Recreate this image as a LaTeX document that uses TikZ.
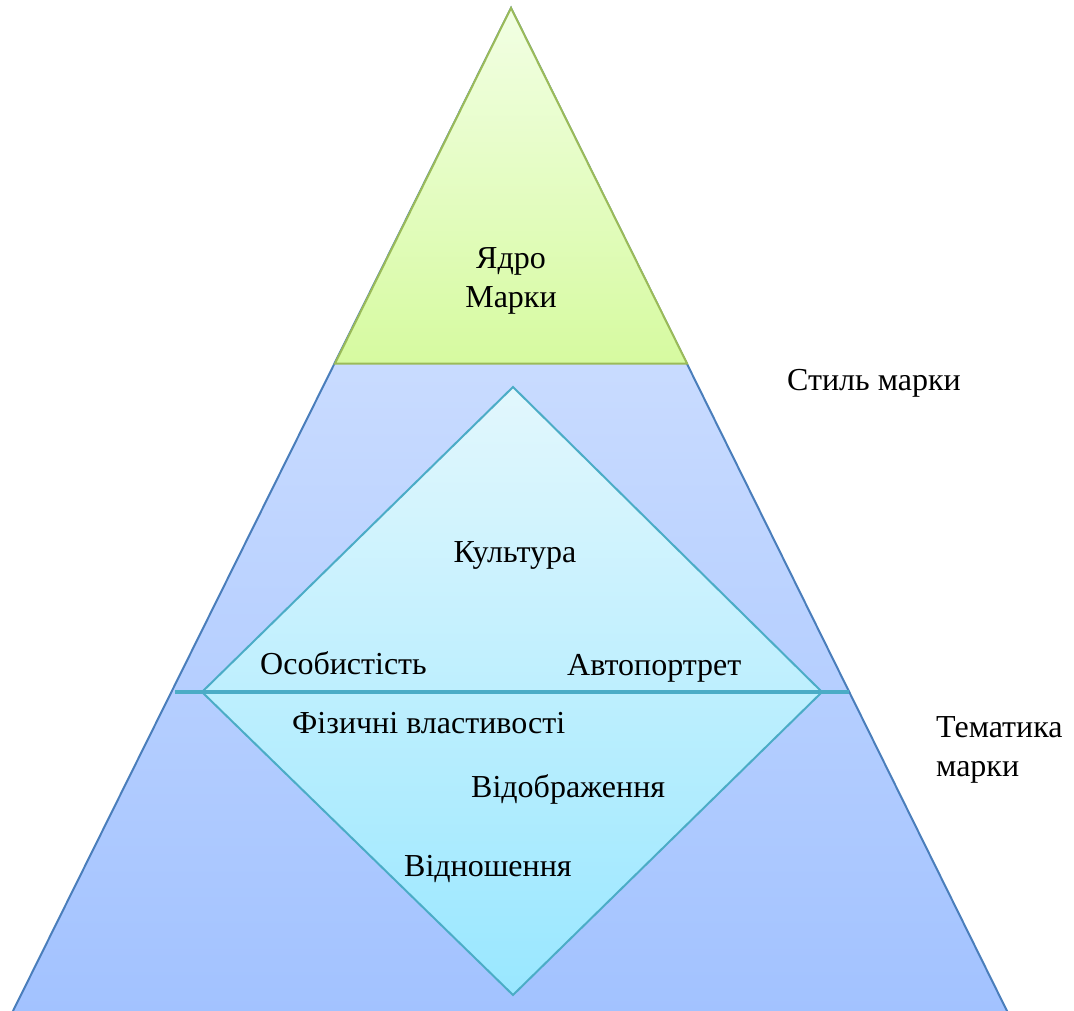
\documentclass[tikz,border=0pt]{standalone}
\usepackage{fontspec}
\setmainfont{Liberation Serif}
\begin{document}
\begin{tikzpicture}[x=1pt,y=-1pt,
  lbl/.style={font=\fontsize{32}{39}\selectfont, inner sep=0pt, align=center},
  pyr/.style={draw={rgb,255:red,74;green,126;blue,187}, line width=2pt,
    top color={rgb,255:red,222;green,233;blue,255},
    bottom color={rgb,255:red,162;green,194;blue,255}},
  core/.style={draw={rgb,255:red,155;green,187;blue,89}, line width=2pt,
    top color={rgb,255:red,242;green,255;blue,228},
    bottom color={rgb,255:red,214;green,250;blue,160}},
  gem/.style={draw={rgb,255:red,75;green,172;blue,198}, line width=2pt,
    top color={rgb,255:red,226;green,247;blue,253},
    bottom color={rgb,255:red,153;green,231;blue,255}},
  divider/.style={draw={rgb,255:red,75;green,172;blue,198}, line width=4.5pt}]
\useasboundingbox (0,0) rectangle (1074,1011);

% outer pyramid
\coordinate (apex) at (511,8);
\coordinate (bl) at (12,1013);
\coordinate (br) at (1008,1013);
\path[pyr] (apex) -- (bl) -- (br) -- cycle;

% core (top part of the pyramid)
\coordinate (cl) at (335,363.5);
\coordinate (cr) at (687,363.5);
\path[core] (apex) -- (cl) -- (cr) -- cycle;

% inner diamond
\coordinate (dt) at (513,387);
\coordinate (dl) at (202,692);
\coordinate (db) at (513,995);
\coordinate (dr) at (822,692);
\path[gem] (dt) -- (dl) -- (db) -- (dr) -- cycle;

% dividing line
\coordinate (hl) at (175,692);
\coordinate (hr) at (849,692);
\draw[divider] (hl) -- (hr);

% labels
\node[lbl] (yadro) at (511,281) {Ядро\\Марки};
\node[lbl, anchor=west] (styl) at (787,383) {Стиль марки};
\node[lbl] (kult) at (515,555) {Культура};
\node[lbl, anchor=west] (osob) at (260,663) {Особистість};
\node[lbl, anchor=west] (avto) at (567,668) {Автопортрет};
\node[lbl, anchor=west] (fiz) at (292,723) {Фізичні властивості};
\node[lbl, anchor=west] (vidob) at (471,789) {Відображення};
\node[lbl, anchor=west] (vidn) at (404,869) {Відношення};
\node[lbl, anchor=west, align=left] (temat) at (936,750) {Тематика\\марки};
\end{tikzpicture}
\end{document}
